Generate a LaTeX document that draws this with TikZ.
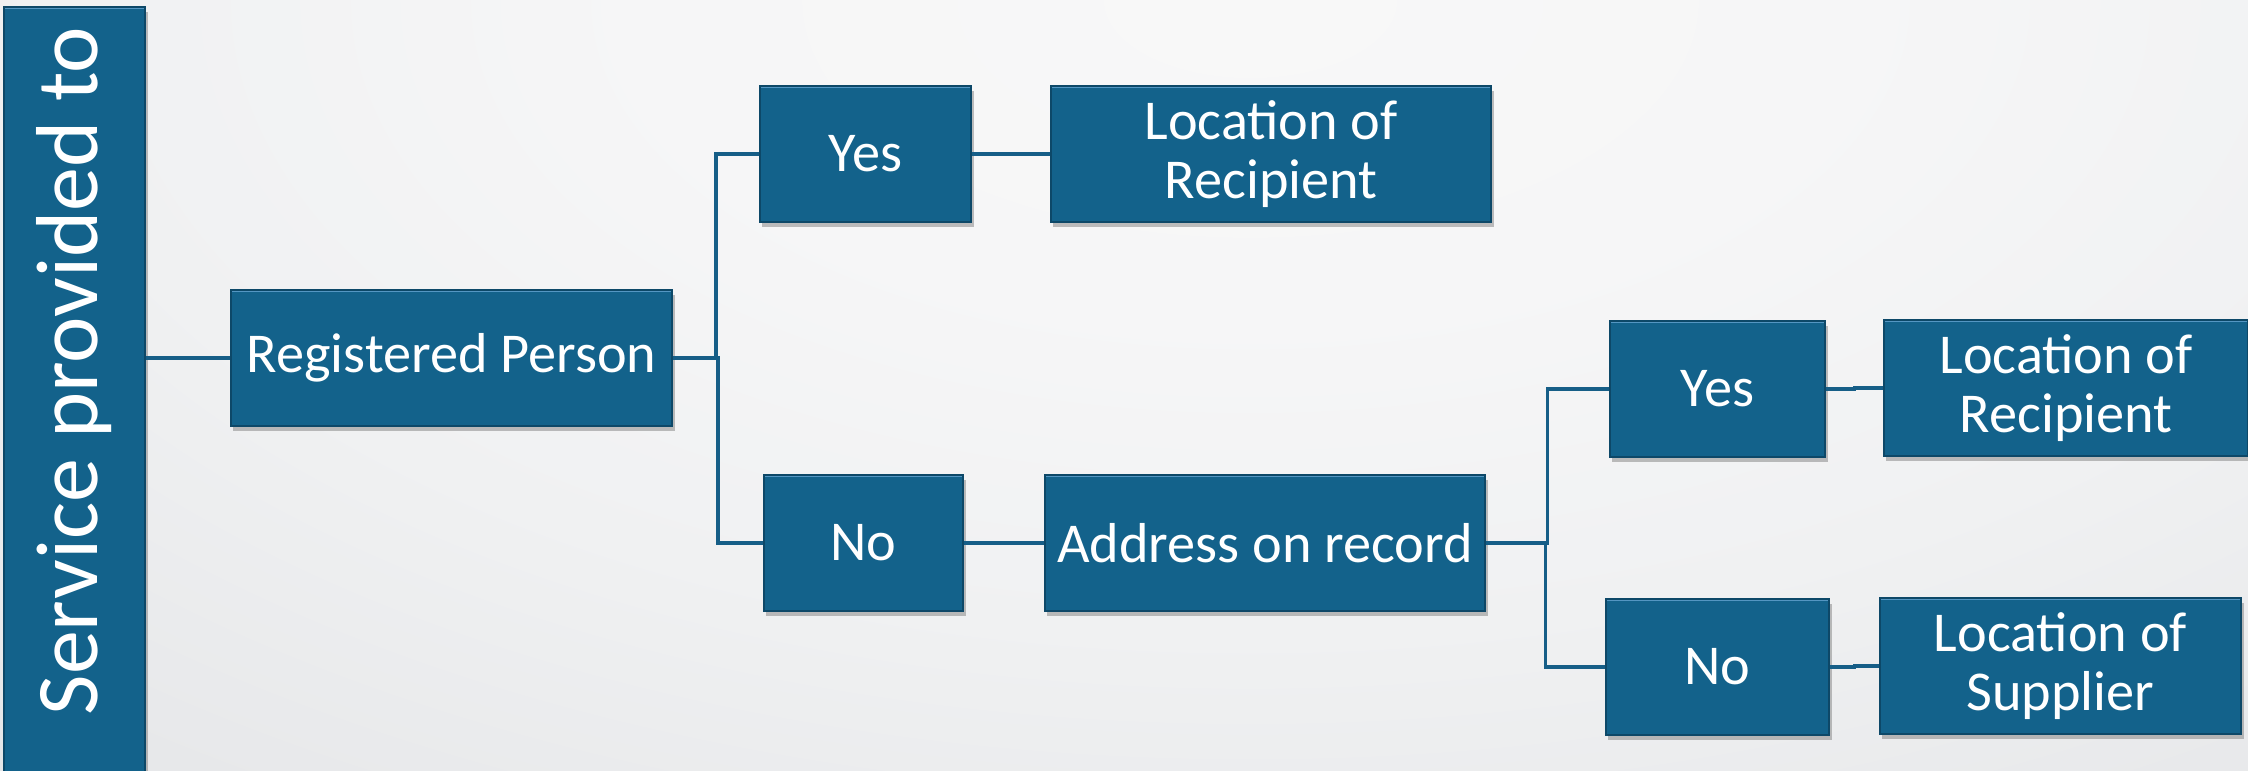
\documentclass[tikz,border=0pt]{standalone}
\usepackage{fontspec}
\setmainfont{Carlito}
\usetikzlibrary{shadows,calc}

\definecolor{boxblue}{RGB}{19,98,139}
\definecolor{boxedge}{RGB}{13,72,104}
\definecolor{boxlight}{RGB}{84,150,194}
\definecolor{linkblue}{RGB}{22,94,135}

% soft light-grey backdrop, brightest near the top centre
\pgfdeclareradialshading{bgglow}{\pgfpoint{0bp}{0bp}}{%
  rgb(0bp)=(.9725,.9725,.9725);
  rgb(10bp)=(.9647,.9647,.9686);
  rgb(20bp)=(.9412,.9451,.9490);
  rgb(30bp)=(.9059,.9098,.9176);
  rgb(40bp)=(.8588,.8667,.8745);
  rgb(50bp)=(.8039,.8157,.8235);
  rgb(60bp)=(.7569,.7725,.7843);
  rgb(70bp)=(.7176,.7333,.7451)}

\tikzset{
  flowbox/.style={rectangle, fill=boxblue, draw=boxedge, line width=0.5pt,
    minimum height=1.36cm, inner sep=0pt, text=white, align=center,
    font=\fontsize{16}{17}\selectfont,
    drop shadow={shadow xshift=0.025cm, shadow yshift=-0.05cm, opacity=0.5},
    path picture={\draw[boxlight, line width=1.4pt]
      (path picture bounding box.north west) -- (path picture bounding box.north east);}},
  link/.style={draw=linkblue, line width=0.036cm},
}

\begin{document}
\begin{tikzpicture}[x=0.01cm, y=-0.01cm]
  \useasboundingbox (0,0) rectangle (2248,771);
  \begin{scope}
    \clip (0,0) rectangle (2248,771);
    \fill[shading=bgglow] (-250,-794) rectangle (2750,794);
  \end{scope}

  % left title bar
  \node[flowbox, minimum width=1.41cm, minimum height=7.80cm] (sp) at (74.5,397) {};
  \node[rotate=90, text=white, font=\fontsize{25}{29}\selectfont] (sptext) at (74,371) {Service provided to};

  % decision tree
  \node[flowbox, minimum width=4.41cm] (rp)   at (451.5,358) {Registered Person};
  \node[flowbox, minimum width=2.11cm] (y1)   at (865.5,154) {Yes};
  \node[flowbox, minimum width=4.40cm] (lor1) at (1271,154)  {Location of\\Recipient};
  \node[flowbox, minimum width=1.99cm] (n1)   at (863.5,543) {No};
  \node[flowbox, minimum width=4.40cm] (aor)  at (1265,543)  {Address on record};
  \node[flowbox, minimum width=2.15cm] (y2)   at (1717.5,389) {Yes};
  \node[flowbox, minimum width=3.64cm] (lor2) at (2066,388)  {Location of\\Recipient};
  \node[flowbox, minimum width=2.23cm] (n2)   at (1717.5,667) {No};
  \node[flowbox, minimum width=3.61cm] (los)  at (2060.5,666) {Location of\\Supplier};

  % connectors
  \draw[link] (sp.east |- rp.west) -- (rp.west);
  \draw[link] (rp.east) -| ($(rp.east)!0.5!(y1.west)$) |- (y1.west);
  \draw[link] (rp.east) -| ($(rp.east)!0.5!(n1.west)$) |- (n1.west);
  \draw[link] (y1.east) -- (lor1.west);
  \draw[link] (n1.east) -- (aor.west);
  \draw[link] (aor.east) -| ($(aor.east)!0.5!(y2.west)$) |- (y2.west);
  \draw[link] (aor.east) -| ($(aor.east)!0.5!(n2.west)$) |- (n2.west);
  \draw[link] (y2.east) -| ($(y2.east)!0.5!(lor2.west)$) |- (lor2.west);
  \draw[link] (n2.east) -| ($(n2.east)!0.5!(los.west)$) |- (los.west);
\end{tikzpicture}
\end{document}
